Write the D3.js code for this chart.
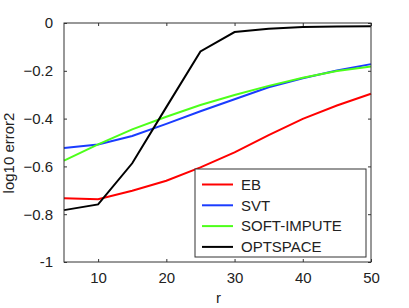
<!DOCTYPE html>
<html lang="en">
<head>
<meta charset="UTF-8">
<title>log10 error2 vs r</title>
<script src="https://d3js.org/d3.v7.min.js"></script>
<style>
  body { margin: 0; background: #fff; }
  svg text { font-family: "Liberation Sans", Arial, sans-serif; fill: #222; }
</style>
</head>
<body>
<div id="chart"></div>
<script>
// r values and per-method log10 error2
const rValues = [5, 10, 15, 20, 25, 30, 35, 40, 45, 50];
const ebValues = [-0.733, -0.737, -0.702, -0.660, -0.604, -0.541, -0.469, -0.401, -0.345, -0.296];
const svtValues = [-0.523, -0.508, -0.473, -0.422, -0.369, -0.319, -0.269, -0.231, -0.199, -0.172];
const softImputeValues = [-0.576, -0.508, -0.445, -0.392, -0.343, -0.301, -0.263, -0.229, -0.201, -0.182];
const optspaceValues = [-0.783, -0.759, -0.587, -0.352, -0.119, -0.038, -0.024, -0.017, -0.015, -0.014];
const seriesNames = ["EB", "SVT", "SOFT-IMPUTE", "OPTSPACE"];
const seriesColors = ["#ff0000", "#1a3cff", "#4dff1a", "#000000"];
const xTicks = [10, 20, 30, 40, 50];
const yTicks = [0, -0.2, -0.4, -0.6, -0.8, -1];

const series = [ebValues, svtValues, softImputeValues, optspaceValues].map((vals, i) => ({
    name: seriesNames[i],
    color: seriesColors[i],
    points: rValues.map((r, j) => ({ r: r, v: vals[j] }))
}));

const W = 409, H = 308;
const margin = { top: 23, right: 38, bottom: 46, left: 64 };
const width = W - margin.left - margin.right;
const height = H - margin.top - margin.bottom;

const svg = d3.select("#chart").append("svg")
    .attr("width", W)
    .attr("height", H);

const g = svg.append("g")
    .attr("transform", `translate(${margin.left},${margin.top})`);

const x = d3.scaleLinear().domain([5, 50]).range([0, width]);
const y = d3.scaleLinear().domain([-1, 0]).range([height, 0]);

const fmt = d => d === 0 ? "0" : (d === -1 ? "-1" : d3.format(".1f")(d));

// axes with inward ticks (matlab style)
g.append("g")
    .attr("transform", `translate(0,${height})`)
    .call(d3.axisBottom(x).tickValues(xTicks).tickSizeInner(-3).tickSizeOuter(0).tickPadding(10))
    .call(a => a.select(".domain").remove())
    .selectAll("text").style("font-size", "15px");

g.append("g")
    .call(d3.axisLeft(y).tickValues(yTicks).tickFormat(fmt).tickSizeInner(-3).tickSizeOuter(0).tickPadding(11))
    .call(a => a.select(".domain").remove())
    .selectAll("text").style("font-size", "15px");

// mirrored ticks
g.append("g")
    .call(d3.axisRight(y).tickValues(yTicks).tickFormat("").tickSizeInner(-3).tickSizeOuter(0))
    .attr("transform", `translate(${width},0)`)
    .call(a => a.select(".domain").remove());

g.append("g")
    .call(d3.axisTop(x).tickValues(xTicks).tickFormat("").tickSizeInner(-3).tickSizeOuter(0))
    .call(a => a.select(".domain").remove());

g.selectAll(".tick line").attr("stroke", "#333");

// lines
const line = d3.line().x(d => x(d.r)).y(d => y(d.v));

g.selectAll(".series")
    .data(series)
    .enter()
    .append("path")
    .attr("class", "series")
    .attr("d", d => line(d.points))
    .attr("fill", "none")
    .attr("stroke", d => d.color)
    .attr("stroke-width", 2);

// box
g.append("rect")
    .attr("width", width)
    .attr("height", height)
    .attr("fill", "none")
    .attr("stroke", "#333")
    .attr("stroke-width", 1);

// axis labels
svg.append("text")
    .attr("x", margin.left + width / 2 + 1)
    .attr("y", 303)
    .attr("text-anchor", "middle")
    .style("font-size", "15px")
    .text("r");

svg.append("text")
    .attr("transform", "translate(14,153)rotate(-90)")
    .attr("text-anchor", "middle")
    .style("font-size", "15px")
    .text("log10 error2");

// legend
const legend = svg.append("g").attr("transform", "translate(195,169)");
legend.append("rect")
    .attr("width", 171)
    .attr("height", 88)
    .attr("fill", "#fff")
    .attr("stroke", "#333")
    .attr("stroke-width", 1);

const entry = legend.selectAll(".entry")
    .data(series)
    .enter()
    .append("g")
    .attr("transform", (d, i) => `translate(0,${15.5 + i * 20.8})`);

entry.append("line")
    .attr("x1", 7).attr("x2", 38)
    .attr("stroke", d => d.color)
    .attr("stroke-width", 2);

entry.append("text")
    .attr("x", 46)
    .attr("dy", "0.35em")
    .style("font-size", "15px")
    .text(d => d.name);
</script>
</body>
</html>
